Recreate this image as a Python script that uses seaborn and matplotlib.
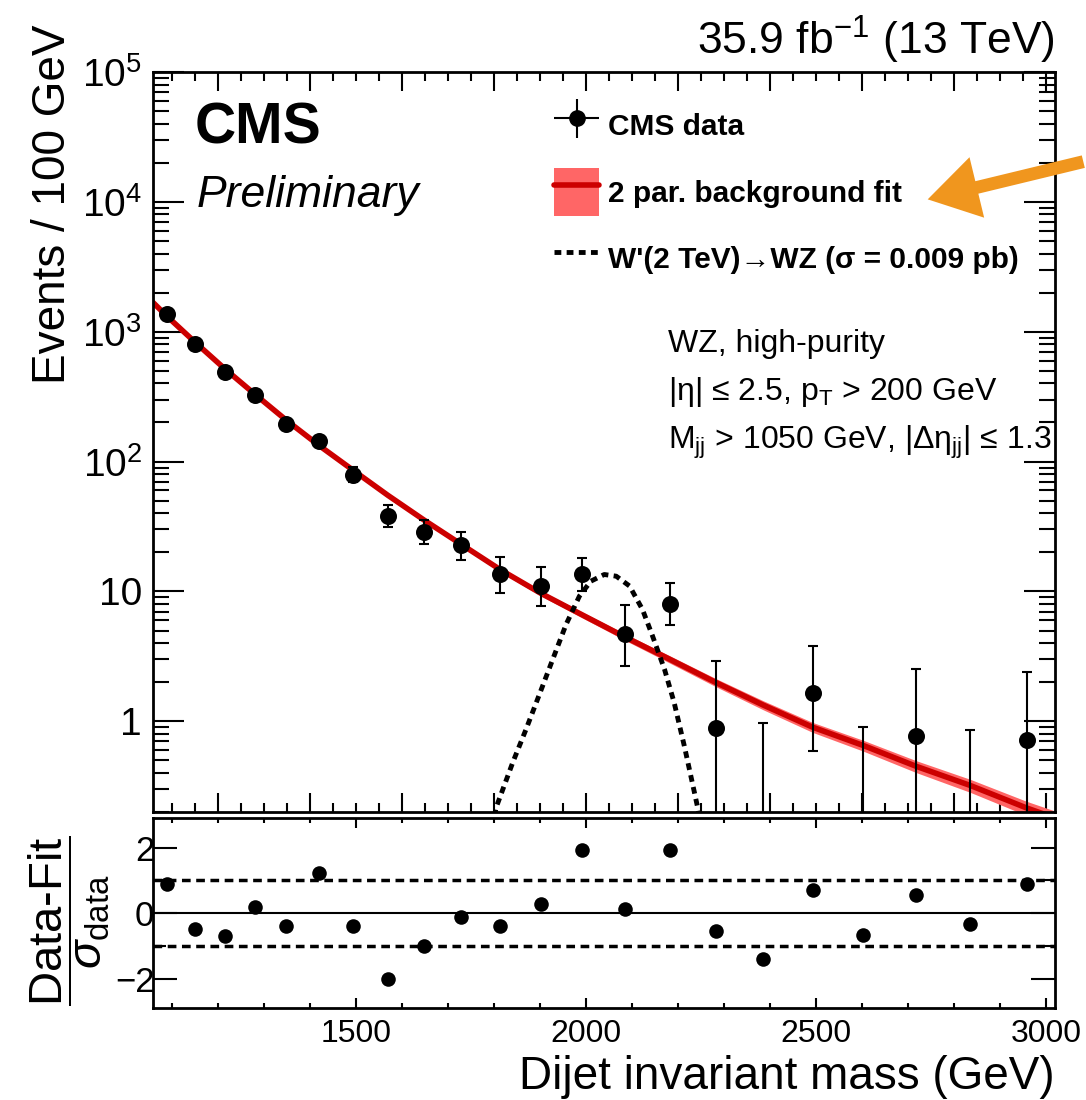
import matplotlib
matplotlib.use('Agg')
import matplotlib.pyplot as plt
import seaborn as sns
import numpy as np
import pandas as pd
from matplotlib.ticker import MultipleLocator, LogLocator, FuncFormatter, NullFormatter
from matplotlib.lines import Line2D
from matplotlib.patches import Patch, FancyArrowPatch
from matplotlib.legend_handler import HandlerErrorbar

# bin centres of the dijet mass spectrum (GeV)
mass = [1088, 1149.5, 1213.5, 1279.5, 1348, 1419, 1492.5, 1568.5, 1647, 1728.5, 1813,
        1900.5, 1991, 2084.5, 2181.5, 2281.5, 2385, 2492, 2602.5, 2717, 2835, 2957]
# events / 100 GeV (0 = empty bin)
events = [1359, 804, 490, 324, 196, 145, 79.4, 37.9, 28.8, 22.6, 13.5,
          11.0, 13.5, 4.67, 8.04, 0.88, 0, 1.65, 0, 0.77, 0, 0.72]
err_up = [1410, 840, 518, 346, 208, 155, 90.4, 46.5, 35.8, 28.6, 18.4,
          15.5, 18.2, 7.9, 11.7, 2.91, 0.965, 3.82, 0.91, 2.52, 0.85, 2.38]
err_dn = [1310, 768, 462, 302, 184, 135, 69.8, 31.3, 23.3, 17.6, 9.75,
          7.7, 10.0, 2.66, 5.47, 0.15, 0, 0.585, 0, 0.13, 0, 0.12]

# background fit
fit_mass = [1058, 1088, 1149.5, 1213.5, 1279.5, 1348, 1419, 1492.5, 1568.5, 1647, 1728.5, 1813,
            1900.5, 1991, 2084.5, 2181.5, 2281.5, 2385, 2492, 2602.5, 2717, 2835, 2957, 3019]
fit_val = [1680, 1320, 830, 520, 330, 208, 133, 86, 55, 35.5, 23, 14.7,
           9.7, 6.6, 4.45, 3.0, 1.99, 1.33, 0.90, 0.65, 0.45, 0.32, 0.215, 0.18]
fit_rel_unc = [0.01, 0.01, 0.01, 0.012, 0.014, 0.016, 0.019, 0.022, 0.026, 0.03, 0.035, 0.04,
               0.046, 0.052, 0.058, 0.065, 0.072, 0.08, 0.088, 0.096, 0.105, 0.115, 0.125, 0.13]

# W'(2 TeV) -> WZ signal shape
sig_mass = [1795, 1804, 1840, 1869, 1898, 1927, 1956, 1985, 2010, 2039, 2065,
            2094, 2122, 2144, 2170, 2191, 2213, 2235, 2242, 2250]
sig_val = [0.15, 0.217, 0.481, 0.868, 1.61, 3.0, 5.57, 9.2, 12.0, 13.5, 13.1,
           11.0, 7.27, 4.53, 2.51, 1.39, 0.646, 0.283, 0.217, 0.15]

# (data - fit) / sigma_data
pulls = [0.90, -0.49, -0.71, 0.17, -0.38, 1.21, -0.38, -2.02, -1.01, -0.13, -0.38,
         0.27, 1.92, 0.12, 1.94, -0.54, -1.39, 0.70, -0.68, 0.55, -0.33, 0.90]

sns.set_theme(style='ticks')
plt.rcParams['font.family'] = ['Liberation Sans', 'DejaVu Sans']
plt.rcParams['mathtext.fontset'] = 'custom'
plt.rcParams['mathtext.rm'] = 'Liberation Sans'
plt.rcParams['mathtext.it'] = 'Liberation Sans:italic'
plt.rcParams['mathtext.bf'] = 'Liberation Sans:bold'
plt.rcParams['axes.linewidth'] = 2.0
for key in ['text.color', 'axes.labelcolor', 'axes.edgecolor', 'xtick.color', 'ytick.color']:
    plt.rcParams[key] = 'black'
plt.rcParams['xtick.direction'] = 'in'
plt.rcParams['ytick.direction'] = 'in'

df = pd.DataFrame({'mass': mass, 'events': events, 'up': err_up, 'dn': err_dn, 'pull': pulls})
fit = pd.DataFrame({'mass': fit_mass, 'val': fit_val, 'rel': fit_rel_unc})
sig = pd.DataFrame({'mass': sig_mass, 'val': sig_val})

fig = plt.figure(figsize=(10.86, 11.0), dpi=100)
ax = fig.add_axes([0.1409, 0.2618, 0.8306, 0.6727])
ax2 = fig.add_axes([0.1409, 0.0836, 0.8306, 0.1727])

light_red = '#ff6666'
dark_red = '#cc0000'

# ---- main panel ----
ax.set_yscale('log')
ax.fill_between(fit['mass'], fit['val'] * (1 - fit['rel']), fit['val'] * (1 + fit['rel']),
                color=light_red, lw=0, zorder=1)
sns.lineplot(data=fit, x='mass', y='val', color=dark_red, lw=4.0, ax=ax, zorder=2)
sns.lineplot(data=sig, x='mass', y='val', color='black', lw=3.5, ls=(0, (1.4, 1.1)),
             ax=ax, zorder=3, sort=False)

mid = np.where(df['events'] > 0, df['events'], df['up'])
lo = np.maximum(df['dn'], 0.01)
ax.errorbar(df['mass'], mid, yerr=[mid - lo, df['up'] - mid], fmt='none',
            ecolor='black', elinewidth=1.5, capsize=3.5, capthick=1.5, zorder=4)
sns.scatterplot(data=df[df['events'] > 0], x='mass', y='events', color='black', s=150,
                edgecolor='black', linewidth=0, ax=ax, zorder=5)

ax.set_xlim(1058, 3019)
ax.set_ylim(0.2, 1e5)
ax.set_xlabel('')
ax.set_ylabel('')
ax.xaxis.set_major_locator(MultipleLocator(200))
ax.xaxis.set_minor_locator(MultipleLocator(50))
ax.yaxis.set_major_locator(LogLocator(base=10, numticks=12))
ax.yaxis.set_minor_locator(LogLocator(base=10, subs=np.arange(2, 10), numticks=12))
ax.yaxis.set_minor_formatter(NullFormatter())


def log_label(v, pos):
    e = int(round(np.log10(v)))
    if e == 0:
        return '1'
    if e == 1:
        return '10'
    return r'$10^{%d}$' % e


ax.yaxis.set_major_formatter(FuncFormatter(log_label))
ax.tick_params(which='both', direction='in', top=True, right=True, labelbottom=False, width=1.5)
ax.tick_params(axis='x', which='major', length=13.5)
ax.tick_params(axis='x', which='minor', length=6.5)
ax.tick_params(axis='y', which='major', length=22, labelsize=28, pad=8)
ax.tick_params(axis='y', which='minor', length=11.5)

ax.text(0.0466, 0.904, 'CMS', transform=ax.transAxes, fontsize=41, fontweight='bold',
        va='baseline', ha='left')
ax.text(0.0488, 0.8176, 'Preliminary', transform=ax.transAxes, fontsize=32, style='italic',
        va='baseline', ha='left')

info = ['WZ, high-purity',
        r'|η| ≤ 2.5, p$_{\mathrm{T}}$ > 200 GeV',
        r'M$_{\mathrm{jj}}$ > 1050 GeV, |Δη$_{\mathrm{jj}}$| ≤ 1.3']
for txt, yy in zip(info, [0.6216, 0.5568, 0.4905]):
    ax.text(0.571, yy, txt, transform=ax.transAxes, fontsize=23, va='baseline', ha='left')

h_data = ax.errorbar([np.nan], [np.nan], xerr=[1], yerr=[1], fmt='o', color='black',
                     ms=11, elinewidth=1.5, capsize=0)
h_fit = (Patch(facecolor=light_red, edgecolor='none'), Line2D([], [], color=dark_red, lw=4))
h_sig = Line2D([], [], color='black', lw=3.5, ls=(0, (1.4, 1.1)))
ax.legend([h_data, h_fit, h_sig],
          ['CMS data', '2 par. background fit', "W'(2 TeV)→WZ (σ = 0.009 pb)"],
          handler_map={h_data: HandlerErrorbar(xerr_size=0.75, yerr_size=0.65)},
          loc='upper left', bbox_to_anchor=(0.445, 0.960), frameon=False,
          prop={'weight': 'bold', 'size': 21.5}, handlelength=1.5, handleheight=2.1,
          labelspacing=0.62, handletextpad=0.3, borderpad=0, borderaxespad=0)

fig.text(1055 / 1086, 1 - 55 / 1100, r'35.9 fb$^{\mathrm{-1}}$ (13 TeV)', fontsize=32,
         ha='right', va='baseline')
fig.text(53 / 1086, 1 - 25 / 1100, 'Events / 100 GeV', fontsize=33, rotation=90,
         ha='center', va='top')

arrow = FancyArrowPatch((1.0, 1 - 161 / 1100), (925 / 1086, 1 - 200 / 1100),
                        transform=fig.transFigure, color='#f0961e',
                        arrowstyle='simple,head_length=1.3,head_width=1.6,tail_width=0.33',
                        mutation_scale=28, lw=0)
fig.add_artist(arrow)

# ---- pull panel ----
ax2.axhline(0, color='black', lw=1.5, zorder=1)
for lvl in (1, -1):
    ax2.axhline(lvl, color='black', lw=2.5, ls=(0, (2.5, 1.6)), zorder=1)
sns.scatterplot(data=df, x='mass', y='pull', color='black', s=110, linewidth=0, ax=ax2, zorder=3)
ax2.set_xlim(1058, 3019)
ax2.set_ylim(-2.9, 2.9)
ax2.xaxis.set_major_locator(MultipleLocator(500))
ax2.xaxis.set_minor_locator(MultipleLocator(100))
ax2.yaxis.set_major_locator(MultipleLocator(2))
ax2.yaxis.set_minor_locator(MultipleLocator(1))
ax2.tick_params(which='both', direction='in', top=True, right=True, width=1.5)
ax2.tick_params(axis='x', which='major', length=7, labelsize=23, pad=8)
ax2.tick_params(axis='x', which='minor', length=3.5)
ax2.tick_params(axis='y', which='major', length=17, labelsize=25, pad=-1)
ax2.tick_params(axis='y', which='minor', length=9)
ax2.set_xlabel('Dijet invariant mass (GeV)', loc='right', fontsize=33, labelpad=4)
ax2.set_ylabel(r'$\dfrac{\text{Data-Fit}}{\sigma_{\text{data}}}$', fontsize=34)
ax2.yaxis.set_label_coords(-0.045, 0.46)

fig.savefig('out.png', dpi=100)
